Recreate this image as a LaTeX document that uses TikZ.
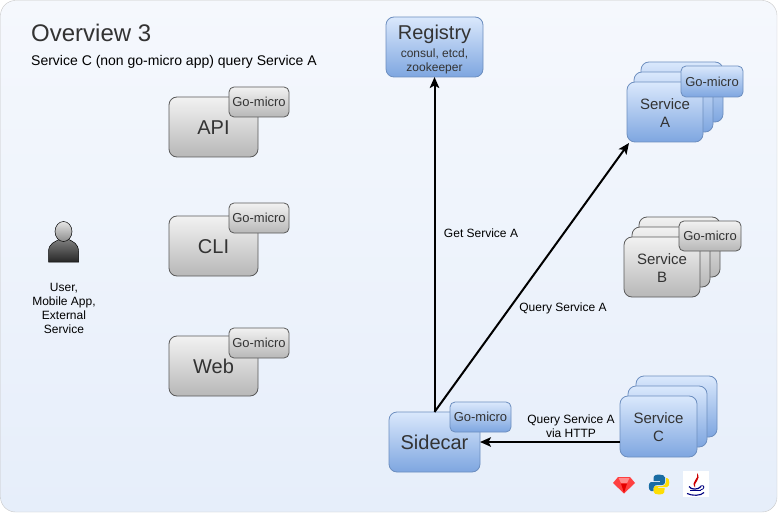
\documentclass[tikz,border=0pt]{standalone}
\usepackage{fontspec}
\setmainfont{Liberation Sans}
\usetikzlibrary{arrows.meta}
\definecolor{txt}{HTML}{333333}
\definecolor{blueedge}{HTML}{6C8EBF}
\definecolor{bluetop}{HTML}{DAE8FC}
\definecolor{bluebot}{HTML}{7EA6E0}
\definecolor{bgtop}{HTML}{F5F8FD}
\definecolor{bgbot}{HTML}{E6EEFA}
\tikzset{
  x=1pt,y=-1pt,
  base/.style={rounded corners=8pt,anchor=north west,inner sep=0pt,outer sep=0pt,align=center,text=txt,line width=0.8pt},
  graybox/.style={base,draw=gray!70!black,top color=white!95!black,bottom color=black!28,font=\fontsize{20}{22}\selectfont},
  bbox/.style={base,draw=blueedge,top color=bluetop,bottom color=bluebot,font=\fontsize{15}{18}\selectfont},
  lgo/.style={font=\fontsize{13}{15}\selectfont},
  ggo/.style={graybox,rounded corners=5pt,lgo},
  bgo/.style={bbox,rounded corners=5pt,lgo},
  lab/.style={font=\fontsize{12}{14}\selectfont,align=center,inner sep=0pt,text=black},
  conn/.style={line width=2pt,-{Stealth[length=11pt,width=9.5pt,inset=2.5pt]}},
}
\newcommand{\bx}[7]{\node[#1,minimum width=#5-#3,minimum height=#6-#4] (#2) at (#3,#4) {#7};}
\newcommand{\gm}{\raisebox{-1.5pt}{Go-micro}}
\newcommand{\tall}{\rule{0pt}{16pt}}
\newcommand{\svc}{\rule{0pt}{13pt}Service}
\begin{document}
\begin{tikzpicture}
\useasboundingbox (0,0) rectangle (778,513);
\path[rounded corners=15pt,draw=black!22,top color=bgtop,bottom color=bgbot] (0.5,0.5) rectangle (777,512);
\node[anchor=west,inner sep=0pt,text=txt,font=\fontsize{24}{28}\selectfont] (title) at (31,33) {Overview 3};
\node[anchor=west,inner sep=0pt,text=black,font=\fontsize{14}{16}\selectfont] (sub) at (31,62) {Service C (non go-micro app) query Service A};
% left column
\bx{graybox}{api}{169}{97}{258}{157}{\tall API}
\bx{ggo}{apigo}{229}{87}{289}{117}{\gm}
\bx{graybox}{cli}{169}{216}{258}{276}{\tall CLI}
\bx{ggo}{cligo}{229}{203}{289}{233}{\gm}
\bx{graybox}{web}{169}{336}{258}{396}{\tall Web}
\bx{ggo}{webgo}{229}{328}{289}{358}{\gm}
% person
\path[top color=black!50,bottom color=black!85,draw=black,line width=0.5pt] (48.5,262) -- (48.5,252) .. controls (48.5,243) and (55,242) .. (60,239) -- (68,239) .. controls (73,242) and (78.5,243) .. (78.5,252) -- (78.5,262) -- cycle;
\path[top color=black!10,bottom color=black!45,draw=black,line width=0.5pt] (63.5,231.5) ellipse (8.5 and 10);
\node[lab,anchor=north] (user) at (64,283.5) {User,\\Mobile App,\\External\\Service};
% registry, sidecar
\bx{bbox}{registry}{386}{17}{483}{77}{\fontsize{20}{22}\selectfont\rule{0pt}{20pt}Registry\\\fontsize{12}{14}\selectfont consul, etcd,\\[-4pt]\fontsize{12}{14}\selectfont zookeeper}
\bx{bbox}{sidecar}{389}{412}{480}{472}{\fontsize{20}{22}\selectfont Sidecar}
\bx{bgo}{sidego}{450}{402}{511}{432}{\gm}
% Service A
\bx{bbox}{a3}{641}{62}{723}{122}{}
\bx{bbox}{a2}{634}{72}{713}{132}{}
\bx{bbox}{a1}{627}{82}{703}{142}{\svc\\A}
\bx{bgo}{ago}{681}{66}{743}{97}{\gm}
% Service B
\bx{graybox}{b3}{639}{217}{720}{277}{}
\bx{graybox}{b2}{632}{227}{710}{287}{}
\node[graybox,font=\fontsize{15}{18}\selectfont,minimum width=76,minimum height=60] (b1) at (624,237) {\svc\\B};
\bx{ggo}{bgo}{679}{221}{741}{251}{\gm}
% Service C
\bx{bbox}{c3}{636}{376}{717}{437}{}
\bx{bbox}{c2}{628}{386}{707}{447}{}
\bx{bbox}{c1}{620}{396}{697}{457}{\svc\\C}
% connectors
\draw[conn] (sidecar.north) -- (registry.south);
\draw[conn] (sidecar.north) -- ([xshift=2pt,yshift=-1pt]a1.south west);
\draw[conn] (c1.west |- sidecar.east) -- (sidecar.east);
\node[lab] (l1) at (481,233.5) {Get Service A};
\node[lab] (l2) at (563,308.5) {Query Service A};
\node[lab] (l3) at (571,426.5) {Query Service A\\via HTTP};
% ruby
\fill[red!75!white] (613,483) -- (618,477) -- (630,477) -- (635,483) -- (624,493.5) -- cycle;
\fill[red!45!white] (618.5,478) -- (629.5,478) -- (627,483) -- (621,483) -- cycle;
\fill[red!90!black] (621,483.5) -- (627,483.5) -- (624,493) -- cycle;
% python
\fill[blue!40!cyan!60!black!90] (659,474.5) .. controls (653,474.5) and (653.5,477) .. (653.5,481) -- (660,481) -- (660,482) -- (651,482) .. controls (648,482) and (648,491) .. (651,491) -- (653.5,491) -- (653.5,488) .. controls (653.5,485.5) and (656,485) .. (658,485) -- (662,485) .. controls (664,485) and (665,484) .. (665,482) -- (665,477.5) .. controls (665,475.5) and (662,474.5) .. (659,474.5) -- cycle;
\fill[yellow!80!orange] (659,494.5) .. controls (665,494.5) and (664.5,492) .. (664.5,488) -- (658,488) -- (658,487) -- (667,487) .. controls (670,487) and (670,478) .. (667,478) -- (666,478) -- (666,482) .. controls (666,484.5) and (664,486) .. (662,486) -- (656,486) .. controls (654.5,486) and (653.5,487) .. (653.5,489) -- (653.5,491.5) .. controls (653.5,493.5) and (656,494.5) .. (659,494.5) -- cycle;
% java
\fill[white] (683,471) rectangle (709,497);
\fill[red!80!black] (697,473) .. controls (700,479) and (690,481) .. (695,487.5) .. controls (693,482) and (702,480) .. (697,473) -- cycle;
\draw[blue!50!black,line width=1.2pt] (689,486.5) .. controls (691,490) and (698,490) .. (701,486.5);
\draw[blue!50!black,line width=1.1pt] (690,490.5) -- (701,490.5);
\draw[blue!50!black,line width=1.1pt] (687,493.5) .. controls (692,496) and (701,496) .. (704,492.5);
\draw[blue!50!black,line width=0.8pt] (700.5,486) .. controls (705,484) and (705,489.5) .. (700.5,490);
\end{tikzpicture}
\end{document}
